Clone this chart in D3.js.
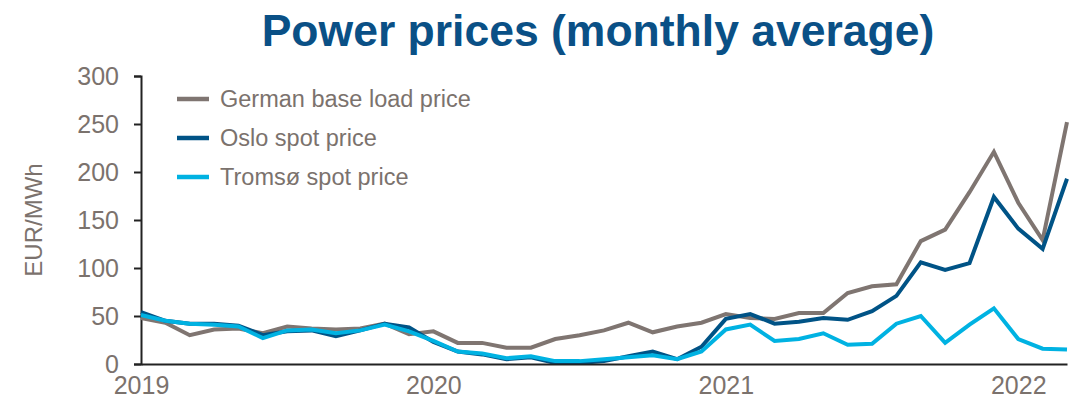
<!DOCTYPE html>
<html>
<head>
<meta charset="utf-8">
<script src="https://cdn.jsdelivr.net/npm/d3@7"></script>
<style>
  body { margin: 0; background: #fff; }
  svg { font-family: Arial, "Liberation Sans", sans-serif; }
</style>
</head>
<body>
<script>
// monthly categories Jan 2019 .. Mar 2022
var months = [
  "2019-01","2019-02","2019-03","2019-04","2019-05","2019-06","2019-07","2019-08","2019-09","2019-10","2019-11","2019-12",
  "2020-01","2020-02","2020-03","2020-04","2020-05","2020-06","2020-07","2020-08","2020-09","2020-10","2020-11","2020-12",
  "2021-01","2021-02","2021-03","2021-04","2021-05","2021-06","2021-07","2021-08","2021-09","2021-10","2021-11","2021-12",
  "2022-01","2022-02","2022-03"
];
var yearTicks = ["2019-01", "2020-01", "2021-01", "2022-01"];
var yTicks = [0, 50, 100, 150, 200, 250, 300];

var german = [48,43,30,36,37,32,39,37,36,37,42,31,34,22,22,17,17,26,30,35,43,33,39,43,52,48,47,53,53,74,81,83,128,140,179,221,168,129,252];
var oslo   = [54,45,42,42,40,30,34,35,29,35,42,38,23,13,10,5,7,1,1,3,8,13,5,18,47,52,42,44,48,46,55,71,106,98,105,174,141,120,193];
var tromso = [51,45,42,41,39,27,35,36,32,35,41,34,24,13,11,6,8,3,3,5,7,9,5,13,36,41,24,26,32,20,21,42,50,22,41,58,26,16,15];

var seriesNames = ["German base load price", "Oslo spot price", "Tromsø spot price"];
var seriesColors = ["#7f7571", "#005386", "#00b2e2"];
var seriesValues = [german, oslo, tromso];

var textColor = "#7b726d";
var width = 1081, height = 401;
var margin = { left: 141, right: 14, top: 76, bottom: 37 };

var svg = d3.select("body").append("svg")
  .attr("width", width)
  .attr("height", height);

var x = d3.scalePoint()
  .domain(months)
  .range([margin.left, width - margin.right]);

var y = d3.scaleLinear()
  .domain([0, 300])
  .range([height - margin.bottom, margin.top]);

// title
svg.append("text")
  .attr("x", 598)
  .attr("y", 46)
  .attr("text-anchor", "middle")
  .style("font-size", "44.5px")
  .style("font-weight", "bold")
  .style("fill", "#0a5086")
  .text("Power prices (monthly average)");

// y axis
var yAxis = svg.append("g")
  .attr("transform", "translate(" + margin.left + ",0)")
  .call(d3.axisLeft(y).tickValues(yTicks).tickSize(7).tickPadding(15));
yAxis.select(".domain").attr("stroke", "#222").attr("stroke-width", 2);
yAxis.selectAll(".tick line").attr("stroke", "#222").attr("stroke-width", 2);
yAxis.selectAll("text")
  .style("font-size", "25px")
  .style("fill", textColor)
  .attr("font-family", null);

// y label
svg.append("text")
  .attr("transform", "translate(42," + ((margin.top + height - margin.bottom) / 2) + ") rotate(-90)")
  .attr("text-anchor", "middle")
  .style("font-size", "24px")
  .style("fill", textColor)
  .text("EUR/MWh");

// lines
var line = d3.line()
  .x(function(d, i) { return x(months[i]); })
  .y(function(d) { return y(d); });

seriesValues.forEach(function(vals, i) {
  svg.append("path")
    .attr("d", line(vals))
    .attr("fill", "none")
    .attr("stroke", seriesColors[i])
    .attr("stroke-width", 4)
    .attr("stroke-linejoin", "miter");
});

// x axis (drawn after lines so the baseline sits on top)
var xAxis = svg.append("g")
  .attr("transform", "translate(0," + (height - margin.bottom) + ")")
  .call(d3.axisBottom(x).tickValues(yearTicks).tickSize(0).tickPadding(12)
    .tickFormat(function(d) { return d.slice(0, 4); }));
xAxis.select(".domain").attr("stroke", "#222").attr("stroke-width", 2);
xAxis.selectAll("text")
  .style("font-size", "25px")
  .style("fill", textColor)
  .attr("font-family", null);

// legend
var legend = svg.append("g").attr("transform", "translate(177,99)");
seriesNames.forEach(function(name, i) {
  var row = legend.append("g").attr("transform", "translate(0," + (i * 39) + ")");
  row.append("line")
    .attr("x1", 0).attr("x2", 32)
    .attr("stroke", seriesColors[i])
    .attr("stroke-width", 4.5);
  row.append("text")
    .attr("x", 43)
    .attr("dy", "0.35em")
    .style("font-size", "23.5px")
    .style("fill", textColor)
    .text(name);
});
</script>
</body>
</html>
